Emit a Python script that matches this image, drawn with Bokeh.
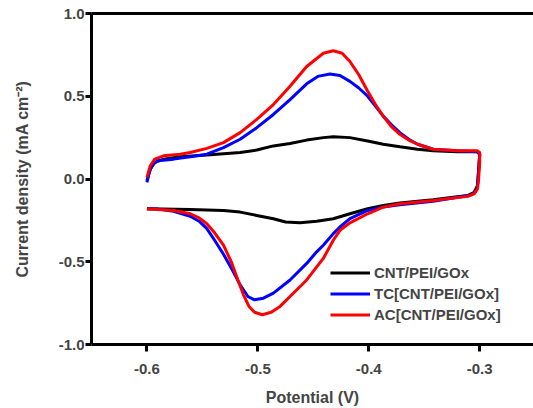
from bokeh.plotting import figure
from bokeh.models import FixedTicker, PrintfTickFormatter, LinearAxis, Range1d
from bokeh.embed import file_html
from bokeh.resources import INLINE

# ---- data ----
cnt_potential = [-0.600, -0.597, -0.593, -0.585, -0.570, -0.546, -0.516, -0.501, -0.486, -0.471,
                 -0.456, -0.441, -0.432, -0.417, -0.401, -0.387, -0.372, -0.356, -0.342, -0.320,
                 -0.302, -0.300, -0.301, -0.302, -0.305, -0.311, -0.342, -0.372, -0.387, -0.401,
                 -0.417, -0.432, -0.447, -0.462, -0.475, -0.486, -0.501, -0.516, -0.531, -0.561,
                 -0.600]
cnt_current = [-0.01, 0.06, 0.10, 0.12, 0.135, 0.145, 0.16, 0.175, 0.20, 0.215,
               0.235, 0.25, 0.255, 0.25, 0.23, 0.21, 0.195, 0.18, 0.17, 0.165,
               0.165, 0.15, 0.05, -0.04, -0.08, -0.10, -0.125, -0.145, -0.16, -0.18,
               -0.21, -0.24, -0.255, -0.265, -0.26, -0.24, -0.22, -0.20, -0.19, -0.185,
               -0.18]

tc_potential = [-0.600, -0.598, -0.595, -0.590, -0.576, -0.561, -0.546, -0.531, -0.516, -0.501,
                -0.486, -0.471, -0.456, -0.446, -0.435, -0.426, -0.417, -0.409, -0.401, -0.394,
                -0.387, -0.380, -0.372, -0.364, -0.356, -0.342, -0.320, -0.302, -0.300, -0.301,
                -0.302, -0.304, -0.309, -0.320, -0.342, -0.372, -0.387, -0.401, -0.417, -0.426,
                -0.432, -0.441, -0.447, -0.456, -0.471, -0.486, -0.495, -0.503, -0.509, -0.516,
                -0.523, -0.531, -0.539, -0.546, -0.553, -0.561, -0.576, -0.590, -0.600]
tc_current = [-0.02, 0.04, 0.09, 0.11, 0.12, 0.135, 0.15, 0.19, 0.24, 0.31,
              0.39, 0.48, 0.575, 0.62, 0.635, 0.625, 0.59, 0.55, 0.50, 0.44,
              0.38, 0.33, 0.28, 0.24, 0.21, 0.18, 0.17, 0.165, 0.15, 0.05,
              -0.04, -0.08, -0.10, -0.11, -0.135, -0.155, -0.17, -0.19, -0.24, -0.29,
              -0.33, -0.40, -0.44, -0.51, -0.61, -0.69, -0.72, -0.73, -0.71, -0.64,
              -0.55, -0.455, -0.37, -0.30, -0.255, -0.225, -0.195, -0.182, -0.18]

ac_potential = [-0.600, -0.597, -0.593, -0.585, -0.570, -0.561, -0.546, -0.531, -0.516, -0.501,
                -0.486, -0.471, -0.456, -0.441, -0.432, -0.424, -0.417, -0.409, -0.401, -0.394,
                -0.387, -0.380, -0.372, -0.364, -0.356, -0.342, -0.320, -0.302, -0.300, -0.300,
                -0.301, -0.302, -0.305, -0.311, -0.342, -0.372, -0.387, -0.401, -0.417, -0.426,
                -0.432, -0.441, -0.456, -0.471, -0.480, -0.488, -0.496, -0.503, -0.508, -0.513,
                -0.518, -0.524, -0.531, -0.539, -0.546, -0.553, -0.561, -0.576, -0.590, -0.600]
ac_current = [0.01, 0.08, 0.12, 0.14, 0.15, 0.16, 0.185, 0.22, 0.28, 0.36,
              0.45, 0.56, 0.68, 0.76, 0.775, 0.76, 0.71, 0.63, 0.53, 0.45,
              0.38, 0.32, 0.27, 0.235, 0.21, 0.18, 0.17, 0.17, 0.16, 0.10,
              0.0, -0.06, -0.09, -0.105, -0.13, -0.15, -0.17, -0.21, -0.265, -0.31,
              -0.37, -0.48, -0.61, -0.71, -0.77, -0.805, -0.82, -0.805, -0.77, -0.70,
              -0.61, -0.50, -0.40, -0.325, -0.27, -0.235, -0.21, -0.19, -0.185, -0.18]

series_names = ["CNT/PEI/GOx", "TC[CNT/PEI/GOx]", "AC[CNT/PEI/GOx]"]
series_colors = ["#000000", "#0000ff", "#ff0000"]
x_ticks = [-0.6, -0.5, -0.4, -0.3]
y_ticks = [-1.0, -0.5, 0.0, 0.5, 1.0]

FONT = "Liberation Sans"

p = figure(width=533, height=408, output_backend="svg", toolbar_location=None,
           x_range=Range1d(-0.65, -0.2515), y_range=Range1d(-1.0, 1.0),
           min_border_left=91, min_border_right=0, min_border_top=13, min_border_bottom=63)
p.outline_line_color = None
p.grid.visible = False
p.background_fill_color = "white"

for xs, ys, name, col in zip([cnt_potential, tc_potential, ac_potential],
                             [cnt_current, tc_current, ac_current],
                             series_names, series_colors):
    p.line(xs, ys, line_color=col, line_width=3, legend_label=name)

for ax in (p.xaxis[0], p.yaxis[0]):
    ax.axis_line_width = 3
    ax.major_tick_line_width = 3
    ax.major_tick_in = 0
    ax.minor_tick_line_color = None
    ax.major_label_text_font = FONT
    ax.major_label_text_font_style = "bold"
    ax.major_label_text_font_size = "15px"
    ax.axis_label_text_font = FONT
    ax.axis_label_text_font_style = "bold"
    ax.axis_label_text_font_size = "16px"
    ax.formatter = PrintfTickFormatter(format="%.1f")

p.xaxis[0].ticker = FixedTicker(ticks=x_ticks)
p.yaxis[0].ticker = FixedTicker(ticks=y_ticks)
p.xaxis[0].major_tick_out = 7
p.yaxis[0].major_tick_out = 6
p.xaxis[0].major_label_standoff = 12
p.yaxis[0].major_label_standoff = 1
p.xaxis[0].axis_label = "Potential (V)"
p.xaxis[0].axis_label_standoff = 12
p.yaxis[0].axis_label = "Current density (mA cm\u207b\u00b2)"
p.yaxis[0].axis_label_standoff = 25

top_axis = LinearAxis(ticker=FixedTicker(ticks=[]), axis_line_width=3,
                      major_tick_out=0, major_tick_in=0, minor_tick_line_color=None,
                      major_label_standoff=0, major_label_text_font_size="0px")
p.add_layout(top_axis, "above")

lg = p.legend[0]
lg.location = (239, 19)
lg.border_line_color = None
lg.background_fill_alpha = 0
lg.padding = 0
lg.margin = 0
lg.spacing = 0
lg.glyph_width = 40
lg.glyph_height = 21
lg.label_height = 21
lg.label_standoff = 4
lg.label_text_font = FONT
lg.label_text_font_style = "bold"
lg.label_text_font_size = "15px"

open("out.html", "w").write(file_html(p, INLINE))
